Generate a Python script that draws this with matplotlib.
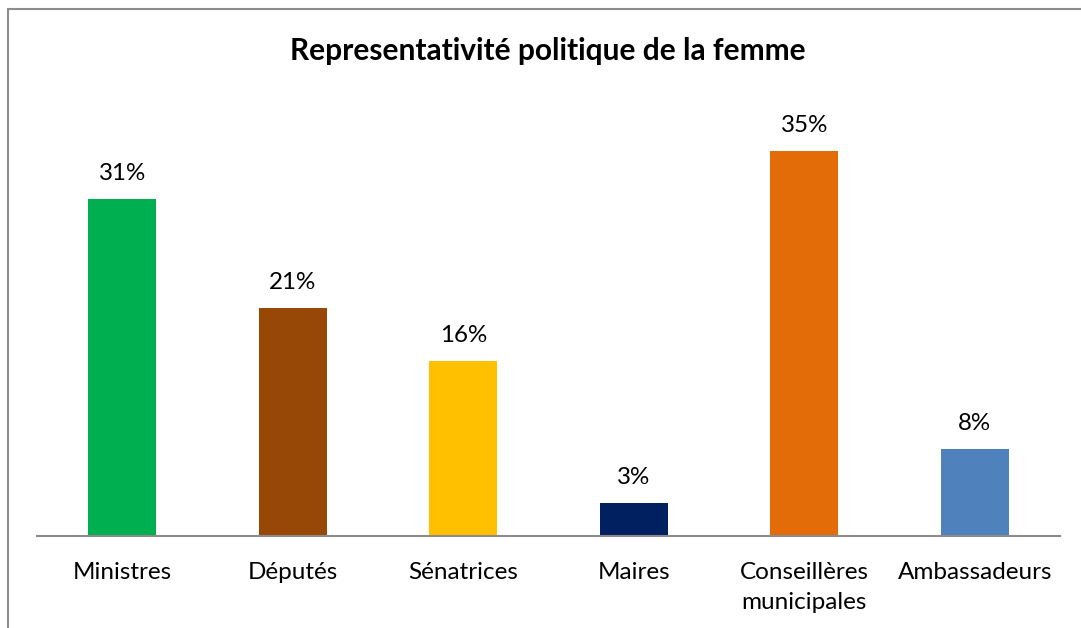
import matplotlib.pyplot as plt
from matplotlib.patches import Rectangle

categories = ['Ministres', 'Députés', 'Sénatrices', 'Maires',
              'Conseillères\nmunicipales', 'Ambassadeurs']
values = [0.306, 0.207, 0.159, 0.030, 0.350, 0.079]
colors = ['#00B050', '#974706', '#FFC000', '#002060', '#E36C09', '#4F81BD']

plt.rcParams['font.family'] = ['Lato', 'DejaVu Sans']

fig = plt.figure(figsize=(10.81, 6.28), dpi=100)
ax = fig.add_axes([37 / 1081, 92 / 628, 1023 / 1081, 440 / 628])

x = range(len(categories))
bars = ax.bar(x, values, width=0.4, color=colors)
for b, v in zip(bars, values):
    ax.text(b.get_x() + b.get_width() / 2, v + 0.014, f'{v * 100:.0f}%',
            ha='center', va='bottom', fontsize=17.4)

ax.set_xlim(-0.5, len(categories) - 0.5)
ax.set_ylim(0, 0.40)
ax.set_xticks(list(x))
ax.set_xticklabels(categories, fontsize=17.5, linespacing=1.5)
ax.tick_params(axis='x', length=0, pad=19)
ax.set_yticks([])
for s in ['top', 'right', 'left']:
    ax.spines[s].set_visible(False)
ax.spines['bottom'].set_color('#8c8c8c')
ax.spines['bottom'].set_linewidth(1.5)

fig.text(548 / 1081, 1 - 51 / 628, 'Representativité politique de la femme',
         ha='center', va='center', fontsize=21.5, fontweight='bold')

# chart frame (only top and left edges visible in the crop)
fig.patches.append(Rectangle((8 / 1081, -0.1), 1.2, 1 - 9 / 628 + 0.1,
                             transform=fig.transFigure, fill=False,
                             edgecolor='#8c8c8c', linewidth=1.5))

fig.savefig('out.png', dpi=100)
